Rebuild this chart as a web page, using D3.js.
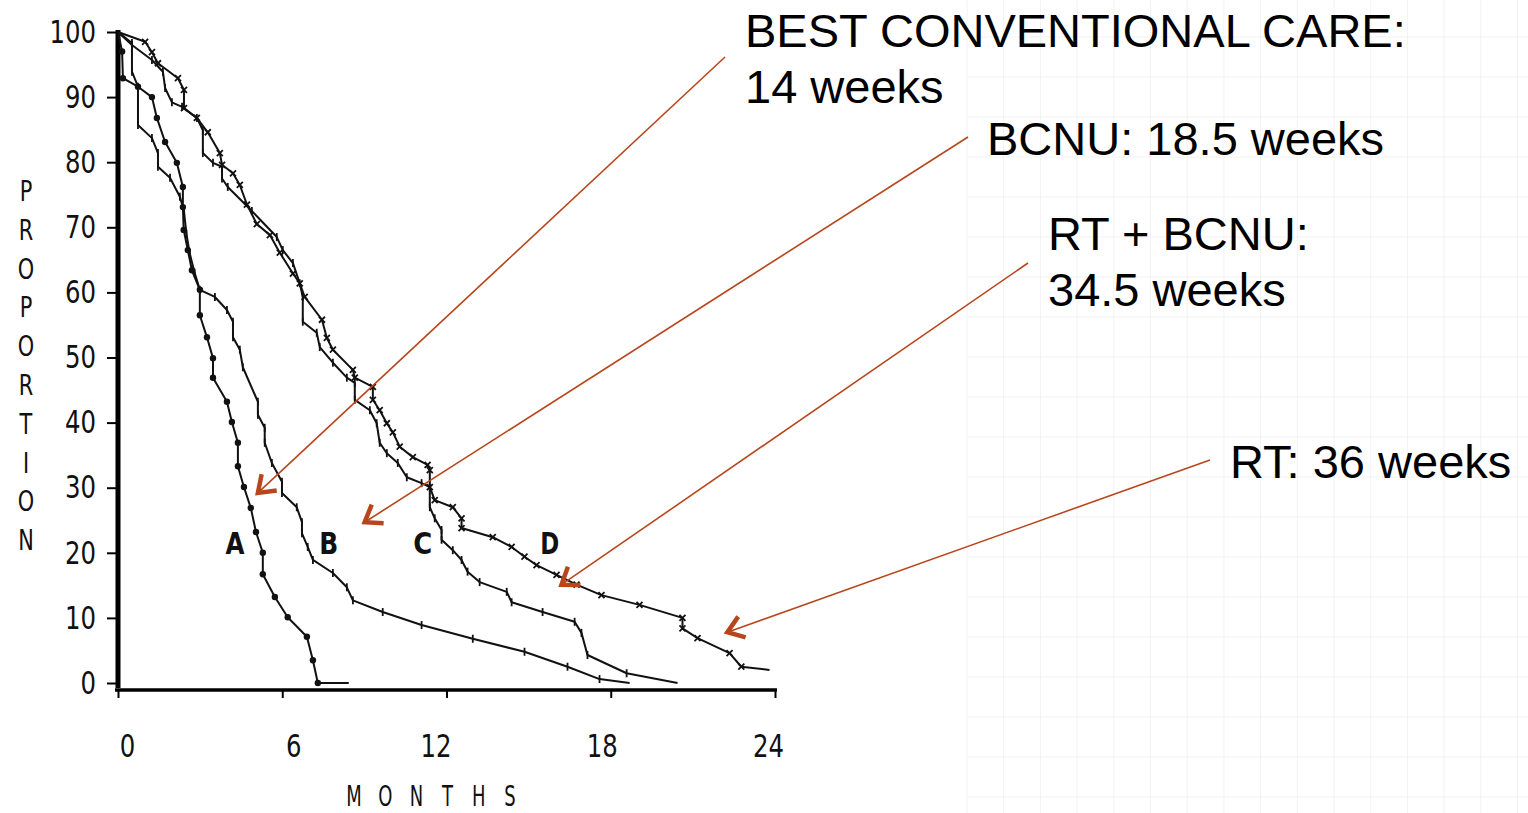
<!DOCTYPE html>
<html>
<head>
<meta charset="utf-8">
<script src="https://cdn.jsdelivr.net/npm/d3@7"></script>
<style>
  html, body { margin: 0; padding: 0; background: #fff; }
  svg { display: block; }
</style>
</head>
<body>
<div id="chart"></div>
<script>
// survival curves, [month, proportion]
var curveA = [[0,100],[0.15,97],[0.18,92.9],[0.73,91.6],[1.24,90.0],[1.42,86.8],[1.72,83.1],[2.15,79.9],[2.37,76.2],[2.37,73.1],[2.40,69.6],[2.55,66.5],[2.70,63.4],[2.99,60.4],[2.99,56.5],[3.25,53.1],[3.47,49.9],[3.47,46.9],[3.98,43.2],[4.16,40.1],[4.38,36.9],[4.38,33.3],[4.60,30.1],[4.85,26.9],[5.04,23.2],[5.29,20.0],[5.29,16.7],[5.73,13.2],[6.20,10.1],[6.90,7.1],[7.12,3.5],[7.30,0],[8.43,0]];
var curveB = [[0,100],[0.51,98.3],[0.51,93.9],[0.73,91.6],[0.73,85.7],[1.24,83.7],[1.46,81.4],[1.46,79.3],[1.90,77.6],[2.26,74.7],[2.41,72.5],[2.50,69.0],[2.62,66.0],[2.80,63.0],[2.99,60.4],[3.54,59.3],[3.98,57.3],[4.20,55.5],[4.20,53.1],[4.45,51.2],[4.56,48.5],[5.11,43.2],[5.11,41.2],[5.36,39.2],[5.36,36.9],[5.62,33.8],[5.99,30.9],[5.99,29.2],[6.53,27.0],[6.72,24.7],[6.72,23.0],[6.93,20.9],[7.12,18.9],[7.85,16.9],[8.36,14.7],[8.58,12.7],[9.67,10.9],[11.09,8.9],[12.96,6.8],[14.85,4.8],[16.42,2.5],[17.59,0.6],[18.69,0]];
var curveC = [[0,100],[0.51,98.0],[1.24,95.7],[1.64,93.9],[1.72,91.4],[1.97,89.2],[2.34,88.5],[2.88,86.8],[3.10,84.9],[3.10,81.4],[3.47,79.9],[3.80,79.3],[3.80,77.5],[4.01,76.2],[4.89,72.5],[5.80,68.5],[6.02,66.5],[6.39,64.5],[6.64,61.4],[6.75,59.3],[6.75,55.5],[7.26,53.8],[7.37,51.6],[7.85,49.2],[8.36,46.9],[8.65,46.1],[8.65,43.5],[9.20,41.9],[9.45,39.9],[9.56,36.9],[9.82,35.3],[10.22,33.8],[10.55,31.6],[11.09,30.7],[11.39,30.1],[11.39,27.0],[11.57,25.3],[11.82,23.5],[11.82,22.0],[12.23,20.4],[12.55,18.9],[12.77,17.1],[13.21,15.5],[14.20,14.0],[14.38,12.4],[15.51,10.9],[16.68,9.4],[16.93,7.7],[17.15,4.3],[18.58,1.5],[20.44,0]];
var curveD = [[0,100],[0.99,98.5],[1.24,96.9],[1.46,95.2],[2.19,92.9],[2.41,91.1],[2.41,88.3],[2.88,86.8],[3.28,84.6],[3.72,81.4],[3.80,79.6],[4.20,78.3],[4.45,76.5],[4.71,73.5],[5.07,70.5],[5.55,68.8],[5.91,66.1],[6.39,62.9],[6.64,61.4],[6.82,59.3],[7.45,55.8],[7.63,53.0],[7.85,51.2],[8.58,48.1],[8.65,46.9],[9.31,45.5],[9.31,43.5],[9.56,41.9],[9.82,39.9],[10.04,38.5],[10.29,36.3],[10.77,34.7],[11.31,33.5],[11.39,32.7],[11.39,30.1],[11.57,28.1],[12.23,27.0],[12.55,25.3],[12.55,23.8],[13.69,22.4],[14.38,20.9],[14.85,19.4],[15.29,18.1],[16.02,16.6],[16.75,15.1],[17.66,13.5],[19.05,12.0],[20.62,10.0],[20.62,8.4],[21.17,6.9],[22.34,4.6],[22.77,2.5],[23.80,2.0]];

var curveNames = ["A", "B", "C", "D"];
var curveLabelAt = [[4.27,19.8],[7.70,19.8],[11.13,19.8],[15.77,19.8]];

var yTicks = [0,10,20,30,40,50,60,70,80,90,100];
var xTicks = [0,6,12,18,24];

// annotations: text lines, arrow tip (month, proportion)
var noteLines = [["BEST CONVENTIONAL CARE:", "14 weeks"], ["BCNU: 18.5 weeks"], ["RT + BCNU:", "34.5 weeks"], ["RT: 36 weeks"]];
var noteTips = [[5.11,29.2],[9.01,24.7],[16.2,15.1],[22.26,7.8]];

var W = 1528, H = 813;
var svg = d3.select("#chart").append("svg").attr("width", W).attr("height", H);
svg.append("rect").attr("width", W).attr("height", H).attr("fill", "#fff");

// faint slide grid on the right
var grid = svg.append("g").attr("stroke", "#f2f2f2").attr("stroke-width", 1);
d3.range(967, W, 36.7).forEach(function(gx) {
  grid.append("line").attr("x1", gx).attr("x2", gx).attr("y1", 0).attr("y2", H);
});
d3.range(-3, H, 40).forEach(function(gy) {
  grid.append("line").attr("x1", 967).attr("x2", W).attr("y1", gy).attr("y2", gy);
});

var x = d3.scaleLinear().domain([0, 24]).range([118, 775]);
var y = d3.scaleLinear().domain([0, 100]).range([683, 32]);

var scan = "'DejaVu Sans', 'Liberation Sans', sans-serif";

// y axis
var yAxis = svg.append("g").attr("transform", "translate(117,0)")
  .call(d3.axisLeft(y).tickValues(yTicks).tickSize(10).tickPadding(11));
yAxis.select(".domain").remove();
yAxis.selectAll(".tick line").attr("stroke", "#000").attr("stroke-width", 2);
yAxis.selectAll(".tick text")
  .attr("font-family", scan).attr("font-size", 32).attr("fill", "#111")
  .attr("textLength", function(d) { return String(d).length * 15.5; })
  .attr("lengthAdjust", "spacingAndGlyphs");
svg.append("line").attr("x1", 118).attr("x2", 118).attr("y1", 30).attr("y2", 688)
  .attr("stroke", "#000").attr("stroke-width", 5);

// x axis (scan is slightly stretched, labels nudged to sit where printed)
var xLabelShift = {0: 9, 6: 11, 12: -11, 18: -9, 24: -7};
var xAxis = svg.append("g").attr("transform", "translate(0,690)")
  .call(d3.axisBottom(x).tickValues(xTicks).tickSize(8).tickPadding(36));
xAxis.select(".domain").remove();
xAxis.selectAll(".tick line").attr("stroke", "#000").attr("stroke-width", 2);
xAxis.selectAll(".tick text")
  .attr("font-family", scan).attr("font-size", 32).attr("fill", "#111")
  .attr("dx", function(d) { return xLabelShift[d]; })
  .attr("textLength", function(d) { return String(d).length * 15.5; })
  .attr("lengthAdjust", "spacingAndGlyphs");
svg.append("line").attr("x1", 115).attr("x2", 777).attr("y1", 690).attr("y2", 690)
  .attr("stroke", "#000").attr("stroke-width", 3.5);

// axis titles, typewriter spaced letters squeezed horizontally
"PROPORTION".split("").forEach(function(ch, i) {
  svg.append("text").attr("transform", "translate(26," + (201 + i * 38.8) + ") scale(0.72,1)")
    .attr("text-anchor", "middle").attr("font-family", scan).attr("font-size", 29)
    .attr("fill", "#111").text(ch);
});
"MONTHS".split("").forEach(function(ch, i) {
  svg.append("text").attr("transform", "translate(" + (354 + i * 31.2) + ",806) scale(0.62,1)")
    .attr("text-anchor", "middle").attr("font-family", scan).attr("font-size", 29)
    .attr("fill", "#111").text(ch);
});

// curves
var line = d3.line().x(function(d) { return x(d[0]); }).y(function(d) { return y(d[1]); });
var curves = [curveA, curveB, curveC, curveD];

curves.forEach(function(c, ci) {
  svg.append("path").datum(c).attr("d", line)
    .attr("fill", "none").attr("stroke", "#111").attr("stroke-width", 2)
    .attr("stroke-linejoin", "round");
  var pts = c.slice(1, c.length - 1);
  if (ci === 0) {
    svg.selectAll(null).data(pts).enter().append("circle")
      .attr("cx", function(d) { return x(d[0]); })
      .attr("cy", function(d) { return y(d[1]); })
      .attr("r", 3.2).attr("fill", "#111");
  } else {
    svg.selectAll(null).data(pts).enter().append("path")
      .attr("d", function(d) {
        var px = x(d[0]), py = y(d[1]);
        return ci === 3
          ? "M" + (px - 3) + "," + (py - 3) + "L" + (px + 3) + "," + (py + 3) + "M" + (px + 3) + "," + (py - 3) + "L" + (px - 3) + "," + (py + 3)
          : "M" + px + "," + (py - 4) + "L" + px + "," + (py + 4);
      })
      .attr("stroke", "#111").attr("stroke-width", 1.8);
  }
});

// curve letters
curveNames.forEach(function(n, i) {
  svg.append("text").attr("x", x(curveLabelAt[i][0])).attr("y", y(curveLabelAt[i][1]))
    .attr("text-anchor", "middle").attr("font-family", scan).attr("font-weight", "bold")
    .attr("font-size", 30).attr("textLength", 19).attr("lengthAdjust", "spacingAndGlyphs")
    .attr("fill", "#111").text(n);
});

// annotations
var rust = "#b8461c";
var noteText = [[745, 47], [987, 155], [1048, 250], [1230, 478]];
var noteTail = [[725, 57], [968, 137], [1028, 263], [1210, 460]];

noteLines.forEach(function(lines, i) {
  var t = svg.append("text").attr("font-family", "'Liberation Sans', Arial, sans-serif")
    .attr("font-size", 47).attr("fill", "#000");
  lines.forEach(function(s, j) {
    t.append("tspan").attr("x", noteText[i][0]).attr("y", noteText[i][1] + j * 56).text(s);
  });

  var tx = x(noteTips[i][0]), ty = y(noteTips[i][1]);
  var sx = noteTail[i][0], sy = noteTail[i][1];
  svg.append("line").attr("x1", sx).attr("y1", sy).attr("x2", tx).attr("y2", ty)
    .attr("stroke", rust).attr("stroke-width", 1.6);
  var ang = Math.atan2(ty - sy, tx - sx), len = 19, spread = 0.62;
  var a1 = ang + Math.PI - spread, a2 = ang + Math.PI + spread;
  svg.append("path")
    .attr("d", "M" + (tx + len * Math.cos(a1)) + "," + (ty + len * Math.sin(a1)) +
      "L" + tx + "," + ty +
      "L" + (tx + len * Math.cos(a2)) + "," + (ty + len * Math.sin(a2)))
    .attr("fill", "none").attr("stroke", rust).attr("stroke-width", 4.5)
    .attr("stroke-linejoin", "miter");
});
</script>
</body>
</html>
